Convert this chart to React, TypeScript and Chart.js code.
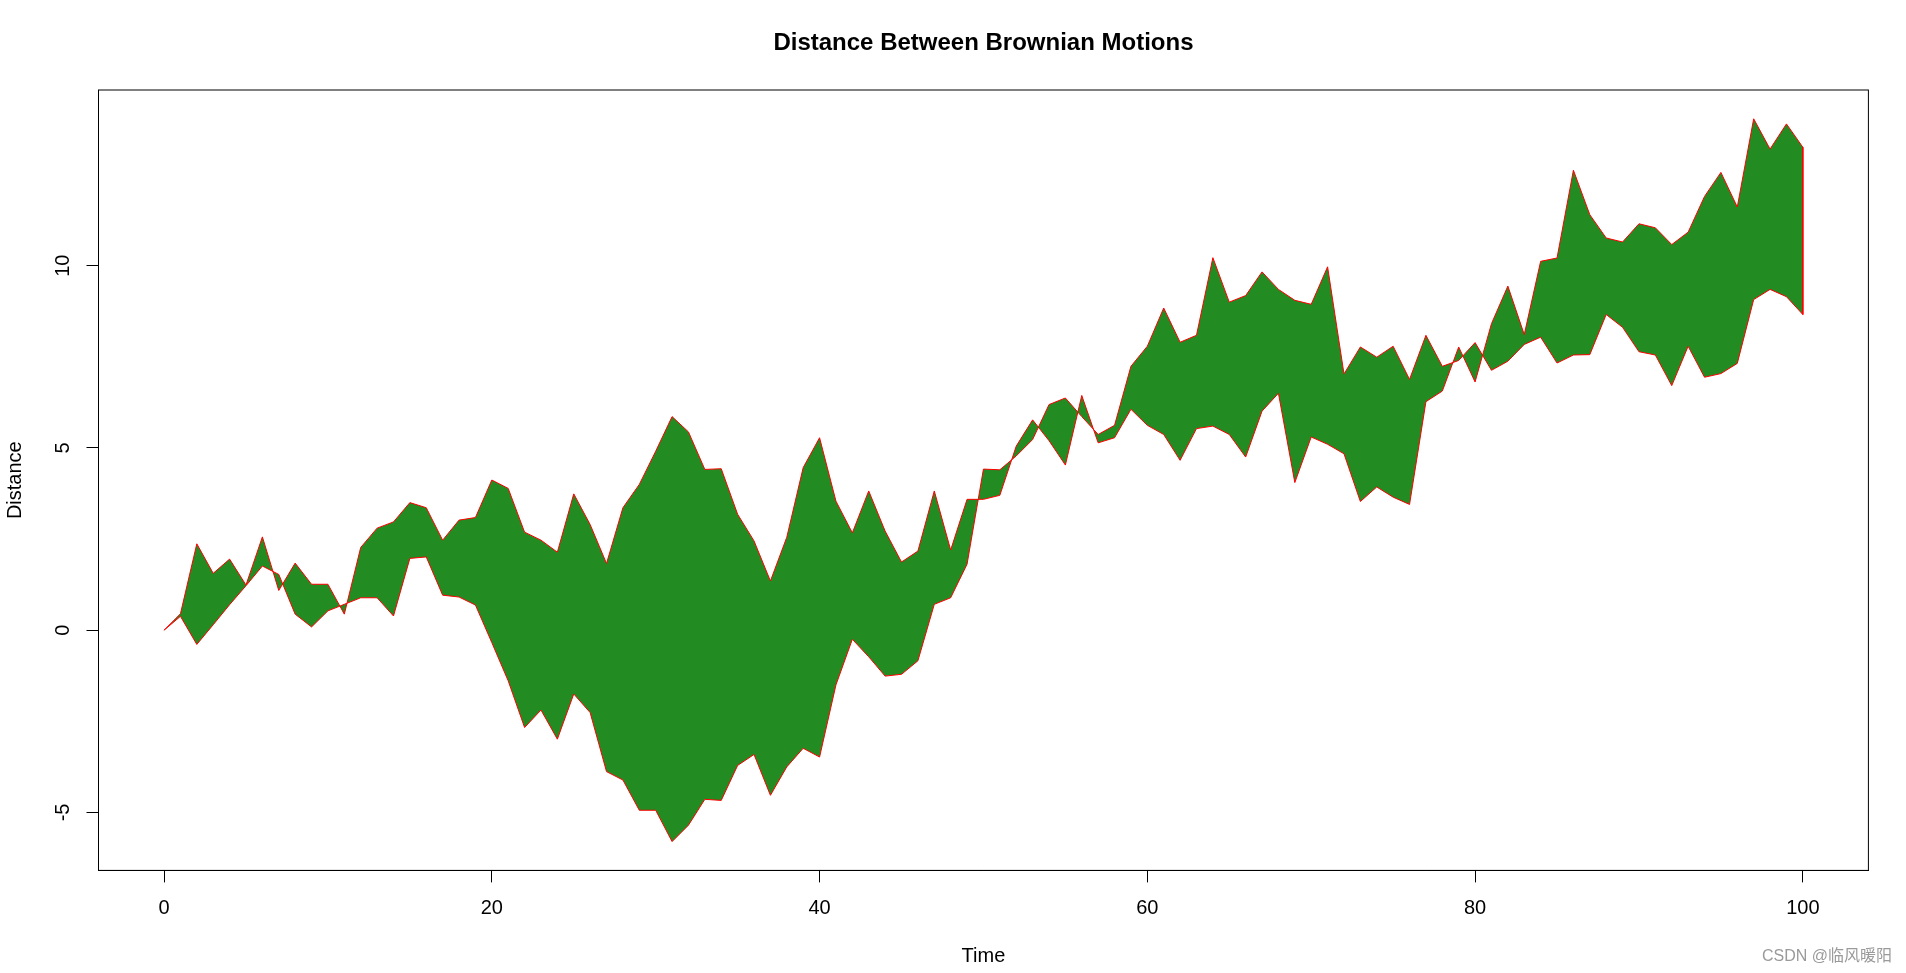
import React, { useEffect, useRef } from "react";
import { Chart, registerables } from "chart.js";

Chart.register(...registerables);

const motionA = [
  0, 0.45, 2.37, 1.56, 1.95, 1.24, 2.56, 1.09, 1.84, 1.26,
  1.26, 0.44, 2.27, 2.8, 2.97, 3.5, 3.36, 2.47, 3.02, 3.09,
  4.12, 3.89, 2.69, 2.47, 2.14, 3.74, 2.9, 1.83, 3.36, 4.0,
  4.91, 5.86, 5.44, 4.41, 4.43, 3.18, 2.45, 1.35, 2.55, 4.46,
  5.28, 3.54, 2.67, 3.82, 2.72, 1.87, 2.17, 3.82, 2.2, 3.59,
  3.59, 3.7, 5.05, 5.77, 5.2, 4.53, 6.44, 5.14, 5.28, 6.06,
  5.62, 5.37, 4.66, 5.53, 5.6, 5.37, 4.75, 6.01, 6.5, 4.05,
  5.3, 5.1, 4.84, 3.53, 3.93, 3.65, 3.45, 6.27, 6.56, 7.77,
  6.81, 8.41, 9.44, 8.11, 10.12, 10.21, 12.62, 11.4, 10.76, 10.65,
  11.15, 11.04, 10.58, 10.92, 11.9, 12.56, 11.61, 14.03, 13.2, 13.89,
  13.25,
];

const motionB = [
  0, 0.38, -0.39, 0.15, 0.7, 1.22, 1.76, 1.53, 0.44, 0.09,
  0.53, 0.71, 0.89, 0.89, 0.39, 1.97, 2.01, 0.96, 0.91, 0.69,
  -0.34, -1.39, -2.67, -2.19, -2.99, -1.75, -2.26, -3.88, -4.11, -4.94,
  -4.94, -5.8, -5.35, -4.64, -4.67, -3.71, -3.41, -4.53, -3.75, -3.24,
  -3.48, -1.5, -0.25, -0.73, -1.26, -1.21, -0.84, 0.71, 0.89, 1.81,
  4.42, 4.4, 4.78, 5.23, 6.19, 6.37, 5.86, 5.37, 5.62, 7.24,
  7.79, 8.84, 7.9, 8.09, 10.22, 9.0, 9.18, 9.83, 9.35, 9.05,
  8.94, 9.97, 7.03, 7.77, 7.49, 7.79, 6.88, 8.09, 7.24, 7.4,
  7.89, 7.13, 7.38, 7.84, 8.04, 7.33, 7.55, 7.56, 8.66, 8.31,
  7.64, 7.55, 6.71, 7.79, 6.94, 7.04, 7.32, 9.07, 9.35, 9.15,
  8.66,
];

const xTicks = [0, 20, 40, 60, 80, 100];
const yTicks = [-5, 0, 5, 10];
const chartTitle = "Distance Between Brownian Motions";
const xLabel = "Time";
const yLabel = "Distance";
const watermark = "CSDN @临风暖阳";

const FONT = "'Liberation Sans', Arial, sans-serif";

export default function App() {
  const ref = useRef<HTMLCanvasElement | null>(null);

  useEffect(() => {
    if (!ref.current) return;
    const forward = motionA.map((y, i) => ({ x: i, y }));
    const backward = motionB.map((y, i) => ({ x: i, y })).reverse();
    const polygon = [...forward, ...backward];

    const decor = {
      id: "decor",
      afterDraw(chart: any) {
        const { ctx, chartArea } = chart;
        ctx.save();
        ctx.strokeStyle = "#000";
        ctx.lineWidth = 1;
        ctx.strokeRect(
          chartArea.left,
          chartArea.top,
          chartArea.right - chartArea.left,
          chartArea.bottom - chartArea.top
        );
        ctx.fillStyle = "#000";
        ctx.font = `bold 24px ${FONT}`;
        ctx.textAlign = "center";
        ctx.textBaseline = "middle";
        ctx.fillText(chartTitle, (chartArea.left + chartArea.right) / 2, 43);
        ctx.fillStyle = "#9a9a9a";
        ctx.font = `16px ${FONT}, 'Noto Sans CJK SC'`;
        ctx.textAlign = "right";
        ctx.fillText(watermark, 1892, 957);
        ctx.restore();
      },
    };

    const axisCommon = {
      grid: {
        display: true,
        drawOnChartArea: false,
        drawTicks: true,
        tickLength: 12,
        color: "#000",
        lineWidth: 1,
      },
      border: { display: true, color: "#000", width: 1 },
    };

    const chart = new Chart(ref.current, {
      type: "scatter",
      data: {
        datasets: [
          {
            data: polygon,
            showLine: true,
            fill: "shape",
            backgroundColor: "#228B22",
            borderColor: "#FF0000",
            borderWidth: 1,
            pointRadius: 0,
            pointHoverRadius: 0,
            tension: 0,
          } as any,
        ],
      },
      options: {
        responsive: false,
        animation: false,
        devicePixelRatio: 1,
        layout: { padding: { top: 90, right: 37.6, left: 0, bottom: 0 } },
        plugins: {
          legend: { display: false },
          tooltip: { enabled: false },
          title: { display: false },
        },
        scales: {
          x: {
            type: "linear",
            min: -4,
            max: 104,
            ...axisCommon,
            afterBuildTicks: (s: any) => {
              s.ticks = xTicks.map((v) => ({ value: v }));
            },
            afterFit: (s: any) => {
              s.height = 102.6;
            },
            ticks: {
              color: "#000",
              font: { size: 20, family: FONT },
              padding: 14,
              maxRotation: 0,
              minRotation: 0,
              autoSkip: false,
            },
            title: {
              display: true,
              text: xLabel,
              color: "#000",
              font: { size: 20, family: FONT },
              padding: { top: 0, bottom: 5 },
            },
          },
          y: {
            type: "linear",
            min: -6.59,
            max: 14.82,
            ...axisCommon,
            afterBuildTicks: (s: any) => {
              s.ticks = yTicks.map((v) => ({ value: v }));
            },
            afterFit: (s: any) => {
              s.width = 98.5;
            },
            ticks: {
              color: "#000",
              font: { size: 20, family: FONT },
              padding: 12,
              minRotation: 90,
              maxRotation: 90,
              crossAlign: "center",
              autoSkip: false,
            },
            title: {
              display: true,
              text: yLabel,
              color: "#000",
              font: { size: 20, family: FONT },
              padding: { top: 3, bottom: 0 },
            },
          },
        },
      } as any,
      plugins: [decor],
    });
    return () => chart.destroy();
  }, []);

  return (
    <div
      style={{
        position: "fixed",
        left: 0,
        top: 0,
        width: 1906,
        height: 973,
        background: "#fff",
      }}
    >
      <canvas ref={ref} width={1906} height={973} style={{ display: "block" }} />
    </div>
  );
}
